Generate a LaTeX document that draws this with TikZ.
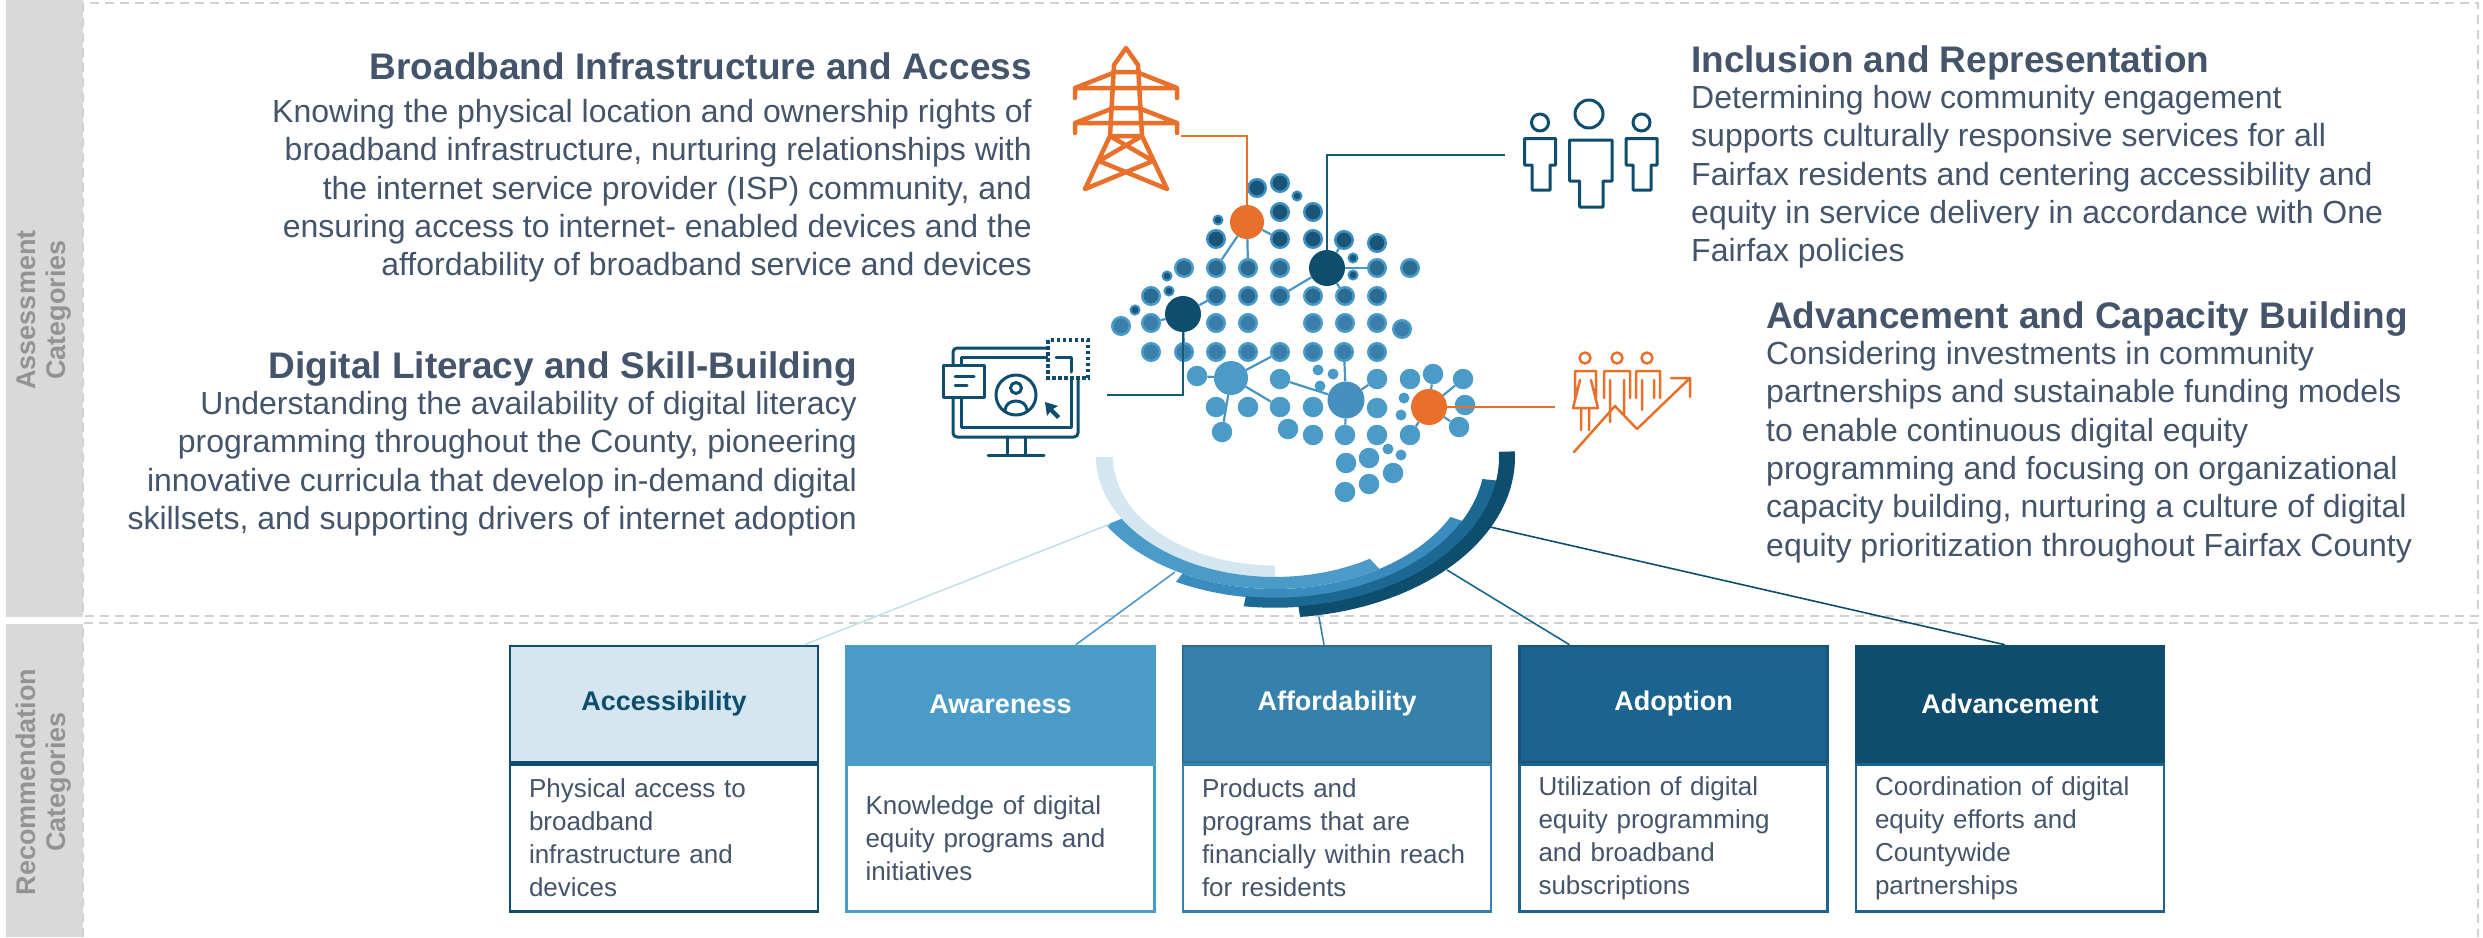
\documentclass[tikz,border=0pt]{standalone}
\usepackage{fontspec}
\setmainfont{Liberation Sans}
\usetikzlibrary{positioning}

\definecolor{txt}{HTML}{44546A}
\definecolor{orng}{HTML}{E8702A}
\definecolor{navy}{HTML}{0E4D6E}
\definecolor{blueA}{HTML}{D4E7F0}
\definecolor{blueB}{HTML}{4A9BC8}
\definecolor{blueC}{HTML}{3581AC}
\definecolor{blueD}{HTML}{1B6490}
\definecolor{arcC}{HTML}{3A8BBE}
\definecolor{arcD}{HTML}{1B6892}
\definecolor{hubB}{HTML}{4690BF}
\definecolor{dotdark}{HTML}{1A5577}
\definecolor{dotmid}{HTML}{2C6B92}
\definecolor{dotlow}{HTML}{3A7FAB}
\definecolor{dotring}{HTML}{3D8EC1}
\definecolor{linkblue}{HTML}{4A94C4}
\definecolor{lightline}{HTML}{C2DDEB}
\definecolor{band}{HTML}{D9D9D9}
\definecolor{bandtxt}{HTML}{939393}
\definecolor{frame}{HTML}{D0D0D0}

\begin{document}
\begin{tikzpicture}[x=1pt, y=-1pt,
    head/.style={font=\fontsize{37}{44}\selectfont\bfseries, text=txt, inner sep=0pt},
    body/.style={font=\fontsize{32}{38.4}\selectfont, text=txt, inner sep=0pt},
    sidelabel/.style={rotate=90, align=center, font=\fontsize{27}{30}\selectfont\bfseries, text=bandtxt},
    frameline/.style={draw=frame, line width=2.5pt, dash pattern=on 9pt off 6pt},
    cathead/.style={rectangle, minimum width=308pt, minimum height=116pt, inner sep=0pt, line width=2.5pt, font=\fontsize{27}{32}\selectfont\bfseries},
    catdesc/.style={rectangle, minimum width=308pt, minimum height=147pt, text width=270pt, inner xsep=19pt, align=left, line width=2.5pt, fill=white, text=txt, font=\fontsize{26}{33}\selectfont},
    dotA/.style={circle, inner sep=0pt, minimum size=17.5pt, fill=dotdark, draw=dotring, line width=2.5pt},
    dotB/.style={dotA, fill=dotmid, draw=blueB},
    dotC/.style={dotA, fill=dotlow, draw=blueB},
    dotD/.style={circle, inner sep=0pt, minimum size=20.5pt, fill=blueB},
    tinyA/.style={circle, inner sep=0pt, minimum size=9pt, fill=dotdark, draw=dotring, line width=2pt},
    tinyD/.style={circle, inner sep=0pt, minimum size=11pt, fill=blueB},
    hub/.style={circle, inner sep=0pt, minimum size=#1},
    link/.style={draw=linkblue, line width=2.2pt},
    wire/.style={line width=2pt},
    icon/.style={line width=3pt, line join=round, line cap=round}
]
\useasboundingbox (0,0) rectangle (2483,937);

% side bands and frames
\fill[band] (6,0) rectangle (83,617);
\fill[band] (6,624) rectangle (83,937);
\node[sidelabel] (assessLbl) at (44,310) {Assessment\\Categories};
\node[sidelabel] (recLbl) at (44,782) {Recommendation\\Categories};
\draw[frameline] (83,3) rectangle (2478,616);
\draw[frameline] (83,937) -- (83,623) -- (2478,623) -- (2478,937);

% assessment texts
\node[head, anchor=base east] (bbHead) at (1032,79) {Broadband Infrastructure and Access};
\node[body, align=right, anchor=north east] (bbText) at ([yshift=-20pt]bbHead.base east) {Knowing the physical location and ownership rights of\\broadband infrastructure, nurturing relationships with\\the internet service provider (ISP) community, and\\ensuring access to internet- enabled devices and the\\affordability of broadband service and devices};

\node[head, anchor=base east] (dlHead) at (857,378) {Digital Literacy and Skill-Building};
\node[body, align=right, anchor=north east] (dlText) at ([yshift=-13pt]dlHead.base east) {Understanding the availability of digital literacy\\programming throughout the County, pioneering\\innovative curricula that develop in-demand digital\\skillsets, and supporting drivers of internet adoption};

\node[head, anchor=base west] (irHead) at (1691,72) {Inclusion and Representation};
\node[body, align=left, anchor=north west] (irText) at ([yshift=-13pt]irHead.base west) {Determining how community engagement\\supports culturally responsive services for all\\Fairfax residents and centering accessibility and\\equity in service delivery in accordance with One\\Fairfax policies};

\node[head, anchor=base west] (advHead) at (1766,328) {Advancement and Capacity Building};
\node[body, align=left, anchor=north west] (advText) at ([yshift=-13pt]advHead.base west) {Considering investments in community\\partnerships and sustainable funding models\\to enable continuous digital equity\\programming and focusing on organizational\\capacity building, nurturing a culture of digital\\equity prioritization throughout Fairfax County};

% recommendation boxes
\node[cathead, fill=blueA, draw=navy, text=navy] (accHead) at (664,704) {Accessibility};
\node[cathead, fill=blueB, draw=blueB, text=white, right=26pt of accHead] (awHead) {Awareness};
\node[cathead, fill=blueC, draw=blueC!85!black, text=white, right=26pt of awHead] (afHead) {Affordability};
\node[cathead, fill=blueD, draw=blueD!85!black, text=white, right=26pt of afHead] (adHead) {Adoption};
\node[cathead, fill=navy, draw=navy, text=white, right=26pt of adHead] (advBox) {Advancement};

\node[catdesc, draw=navy, below=0pt of accHead] (accDesc) {Physical access to\\broadband\\infrastructure and\\devices};
\node[catdesc, draw=blueB, below=0pt of awHead] (awDesc) {Knowledge of digital\\equity programs and\\initiatives};
\node[catdesc, draw=blueC, below=0pt of afHead] (afDesc) {Products and\\programs that are\\financially within reach\\for residents};
\node[catdesc, draw=blueD, below=0pt of adHead] (adDesc) {Utilization of digital\\equity programming\\and broadband\\subscriptions};
\node[catdesc, draw=blueD, below=0pt of advBox] (advDesc) {Coordination of digital\\equity efforts and\\Countywide\\partnerships};

% arcs under the map
\begin{scope}[shift={(1275,457)}, yscale=0.67]
  \fill[blueA] plot[domain=90:180, samples=40] (\x:179) -- plot[domain=180:90, samples=40] (\x:162) -- cycle;
  \fill[blueB] plot[domain=58:149, samples=40] (\x:197) -- plot[domain=149:58, samples=40] (\x:179) -- cycle;
  \fill[arcC] plot[domain=27:118, samples=40] (\x:211) -- plot[domain=118:27, samples=40] (\x:197) -- cycle;
  \fill[arcD] plot[domain=9:98, samples=40] (\x:225) -- plot[domain=98:9, samples=40] (\x:210) -- cycle;
  \fill[navy] plot[domain=-2:84, samples=40] (\x:240) -- plot[domain=84:-2, samples=40] (\x:224) -- cycle;
\end{scope}

\coordinate (lightTip) at (1110,524);
\coordinate (awTip) at (1175,572);
\coordinate (afTip) at (1319,617);
\coordinate (adTip) at (1447,570);
\coordinate (advTip) at (1490,527);
\draw[wire, draw=lightline, line width=1.5pt] ([xshift=-15pt]accHead.north east) -- (lightTip);
\draw[wire, draw=blueB, line width=1.6pt] ([xshift=-80pt]awHead.north east) -- (awTip);
\draw[wire, draw=blueC, line width=1.6pt] ([xshift=-13pt]afHead.north) -- (afTip);
\draw[wire, draw=blueD, line width=1.6pt] ([xshift=-104pt]adHead.north) -- (adTip);
\draw[wire, draw=navy, line width=1.6pt] ([xshift=-5pt]advBox.north) -- (advTip);

% dot map
\foreach \x/\y in {1257/188,1280/183,1280/212,1313/212,1216/239,1280/239,1313/239,1344/240,1377/243}
  \node[dotA] (d\x-\y) at (\x,\y) {};
\foreach \x/\y in {1297/196,1218/220,1353/258,1353/275,1167/276,1169/291,1135/310}
  \node[tinyA] (d\x-\y) at (\x,\y) {};
\foreach \x/\y in {1184/268,1216/268,1248/268,1280/268,1377/268,1410/268,1151/296,1216/296,1248/296,1280/296,1313/296,1345/296,1377/296}
  \node[dotB] (d\x-\y) at (\x,\y) {};
\foreach \x/\y in {1121/326,1151/323,1216/323,1248/323,1313/323,1345/323,1377/323,1402/329,1151/352,1184/352,1216/352,1248/352,1280/352,1313/352,1344/352,1377/352}
  \node[dotC] (d\x-\y) at (\x,\y) {};
\foreach \x/\y in {1197/376,1280/379,1377/379,1410/379,1433/374,1463/379,1216/407,1248/407,1280/407,1313/407,1377/408,1465/405,1222/432,1288/429,1313/435,1345/435,1377/435,1410/435,1459/427,1346/463,1369/458,1393/473,1345/492,1369/484}
  \node[dotD] (d\x-\y) at (\x,\y) {};
\foreach \x/\y in {1318/370,1333/374,1320/386,1404/398,1401/415,1388/449,1401/455}
  \node[tinyD] (d\x-\y) at (\x,\y) {};

% hubs
\node[hub=34pt, fill=orng] (o1) at (1247,222) {};
\node[hub=36pt, fill=navy] (n1) at (1327,268) {};
\node[hub=36pt, fill=navy] (n2) at (1183,314) {};
\node[hub=34pt, fill=blueB] (h1) at (1231,378) {};
\node[hub=37pt, fill=hubB] (h2) at (1346,400) {};
\node[hub=36pt, fill=orng] (o2) at (1429,407) {};

\foreach \t in {d1216-268,d1248-268,d1280-239} \draw[link] (o1) -- (\t);
\foreach \t in {d1280-296,d1377-268,d1344-240,d1345-296} \draw[link] (n1) -- (\t);
\foreach \t in {d1216-296,d1151-323,d1184-352} \draw[link] (n2) -- (\t);
\foreach \t in {d1280-352,d1197-376,d1280-407,d1222-432} \draw[link] (h1) -- (\t);
\foreach \t in {d1280-379,d1344-352,d1377-379,d1345-435} \draw[link] (h2) -- (\t);
\foreach \t in {d1463-379,d1459-427,d1410-435,d1433-374} \draw[link] (o2) -- (\t);

% connectors to the icons
\coordinate (towerEnd) at (1181,136);
\coordinate (peopleEnd) at (1505,155);
\coordinate (screenEnd) at (1107,395);
\coordinate (growthEnd) at (1555,407);
\draw[wire, draw=orng] (o1) |- (towerEnd);
\draw[wire, draw=navy!85!blueB] (n1) |- (peopleEnd);
\draw[wire, draw=navy!85!blueB] (n2) |- (screenEnd);
\draw[wire, draw=orng] (o2) -- (growthEnd);

% transmission tower
\draw[icon, draw=orng, line width=4.5pt]
  (1114,65) -- (1126,48) -- (1138,65)
  (1114,65) -- (1110,136) -- (1085,189)
  (1138,65) -- (1142,136) -- (1167,189)
  (1113,72) -- (1139,72)
  (1113,73) -- (1075,88) -- (1177,88) -- (1139,73)
  (1075,88) -- (1075,98) (1177,88) -- (1177,98)
  (1111,108) -- (1141,108)
  (1111,109) -- (1075,123) -- (1177,123) -- (1141,109)
  (1075,123) -- (1075,133) (1177,123) -- (1177,133)
  (1110,136) -- (1142,136)
  (1110,136) -- (1153,161) -- (1085,189)
  (1142,136) -- (1099,161) -- (1167,189);

% people
\draw[icon, draw=navy]
  (1540,122.5) circle[radius=8.5]
  (1524.5,138.5) -- (1555.5,138.5) -- (1555.5,165) -- (1550,165) -- (1550,190) -- (1532,190) -- (1532,165) -- (1524.5,165) -- cycle
  (1589,114) circle[radius=14]
  (1569.5,140) -- (1612,140) -- (1612,181) -- (1603,181) -- (1603,207) -- (1579.5,207) -- (1579.5,181) -- (1569.5,181) -- cycle
  (1641.5,122.5) circle[radius=8.5]
  (1626,138.5) -- (1657,138.5) -- (1657,165) -- (1651,165) -- (1651,190) -- (1633,190) -- (1633,165) -- (1626,165) -- cycle;

% screen
\draw[icon, draw=navy, rounded corners=4pt] (953,348) rectangle (1078,437);
\draw[icon, draw=navy] (961,357) rectangle (1071,427);
\draw[icon, draw=navy] (1007,437) -- (1007,454) (1025,437) -- (1025,454) (988,455) -- (1044,455);
\draw[icon, draw=navy, fill=white] (943,365) rectangle (984,397);
\draw[icon, draw=navy] (955,376) -- (974,376) (955,385) -- (967,385);
\draw[icon, draw=navy] (1016,395) circle[radius=20] (1016,388) circle[radius=5.5]
  (1005,410) .. controls (1006,398) and (1026,398) .. (1027,410);
\fill[navy] (1045,402) -- (1058,406) -- (1053,409) -- (1060,416) -- (1057,419) -- (1050,412) -- (1047,416) -- cycle;
\draw[navy, line width=3.5pt, dash pattern=on 3.5pt off 2.5pt, fill=white] (1048,340) rectangle (1088,378);
\draw[icon, draw=navy] (1056,357) -- (1071,357) -- (1071,372);

% growth
\draw[icon, draw=orng, line width=2.5pt]
  (1585,358) circle[radius=5.5] (1617,358) circle[radius=5.5] (1647,358) circle[radius=5.5]
  (1575,398) -- (1575,371) -- (1596,371) -- (1596,398)
  (1580,380) -- (1573,408) -- (1598,408) -- (1591,380)
  (1581,408) -- (1581,430) (1589,408) -- (1589,430)
  (1604,398) -- (1604,371) -- (1630,371) -- (1630,398)
  (1610,380) -- (1610,422) (1624,380) -- (1624,414)
  (1636,398) -- (1636,371) -- (1660,371) -- (1660,398)
  (1642,380) -- (1642,410) (1654,380) -- (1654,398)
  (1574,452) -- (1615,406) -- (1637,429) -- (1690,378)
  (1671,378) -- (1690,378) -- (1690,397);

\end{tikzpicture}
\end{document}
